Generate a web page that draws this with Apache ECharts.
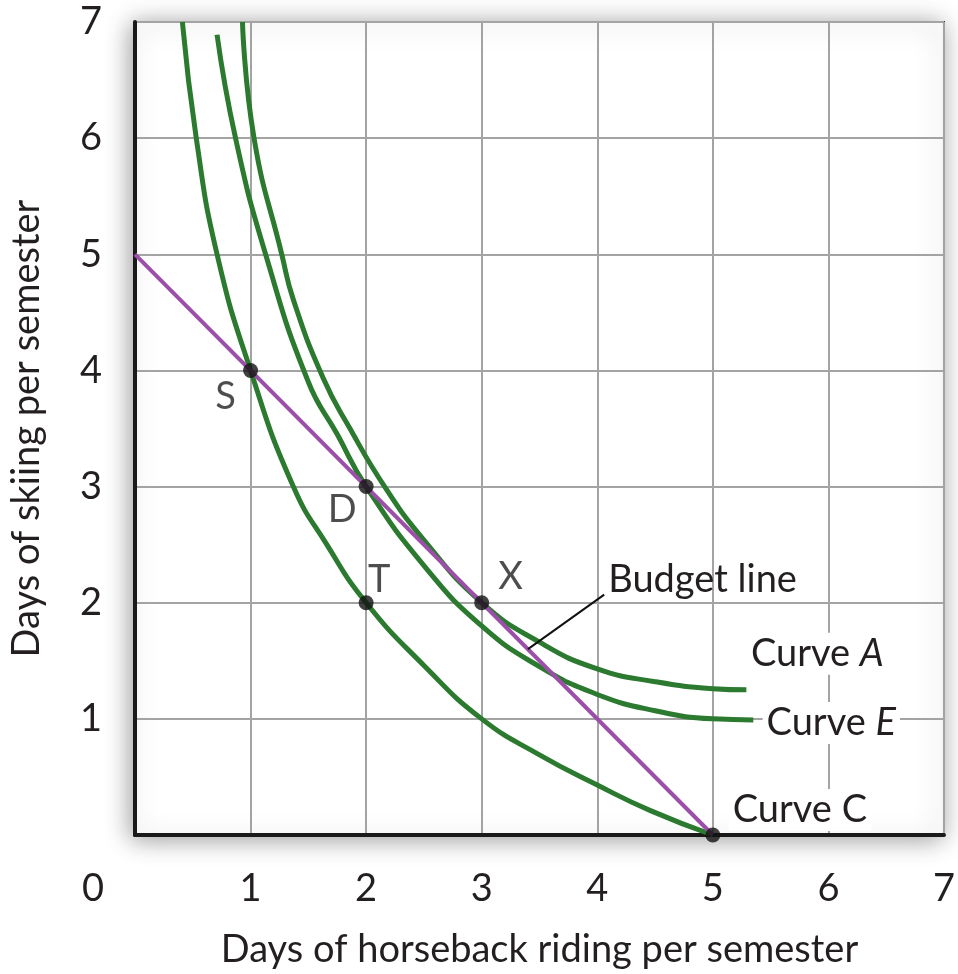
<!DOCTYPE html>
<html>
<head>
<meta charset="utf-8">
<script src="https://cdn.jsdelivr.net/npm/echarts@6/dist/echarts.min.js"></script>
<style>
  html, body { margin: 0; padding: 0; background: #fff; }
  #chart { width: 958px; height: 974px; }
</style>
</head>
<body>
<div id="chart"></div>
<script>
// values (days of horseback riding, days of skiing)
var curveC = [[0.41, 7], [0.53, 6], [0.71, 5], [1, 4], [1.37, 3], [1.66, 2.5], [2, 2], [2.5, 1.46], [3, 1.0], [3.5, 0.69], [4, 0.43], [4.46, 0.21], [5, 0]];
var curveE = [[0.71, 6.89], [0.87, 6], [1.13, 5], [1.5, 3.9], [1.75, 3.45], [2, 3], [2.5, 2.32], [3, 1.8], [3.5, 1.45], [4, 1.21], [4.5, 1.07], [5, 1.0], [5.35, 0.99]];
var curveA = [[0.93, 7], [1.03, 6], [1.27, 5], [1.37, 4.61], [1.63, 3.93], [1.86, 3.5], [2.16, 3], [2.5, 2.54], [3, 2], [3.5, 1.66], [4, 1.43], [4.5, 1.32], [5, 1.26], [5.29, 1.25]];
var budgetLine = [[0, 5], [5, 0]];
var leaderLine = [[3.40, 1.60], [4.06, 2.07]];

var pointNames = ['S', 'D', 'T', 'X', ''];
var pointX = [1, 2, 2, 3, 5];
var pointY = [4, 3, 2, 2, 0];

var axisTicks = [0, 1, 2, 3, 4, 5, 6, 7];

var FONT = 'Lato';
var FS = 38;
var TXT = '#231f20';
var GREEN = '#2b7a2f';
var PURPLE = '#9b4fa8';

var chart = echarts.init(document.getElementById('chart'));

// label offsets for the points, in pixels
var pointOffsets = {S: [-25, 26], D: [-24, 23], T: [13, -23], X: [29, -26]};

var pointData = pointX.map(function (x, i) {
    var name = pointNames[i];
    return {
        value: [x, pointY[i]],
        label: {
            show: name !== '',
            formatter: name,
            position: 'inside',
            offset: pointOffsets[name] || [0, 0]
        }
    };
});

function curveLabel(coord, text, offset) {
    return {
        symbol: 'circle',
        symbolSize: 0,
        silent: true,
        data: [{coord: coord}],
        label: {
            show: true,
            position: 'inside',
            offset: offset,
            formatter: text,
            color: TXT,
            fontFamily: FONT,
            fontSize: FS,
            backgroundColor: '#fff',
            padding: [2, 4],
            rich: {
                i: {fontStyle: 'italic', fontFamily: FONT, fontSize: FS, color: TXT}
            }
        }
    };
}

function curveSeries(name, data, mark) {
    return {
        name: name,
        type: 'line',
        data: data,
        smooth: 0.5,
        showSymbol: false,
        symbol: 'none',
        lineStyle: {color: GREEN, width: 5},
        z: 2,
        markPoint: mark
    };
}

var option = {
    animation: false,
    backgroundColor: '#fff',
    textStyle: {fontFamily: FONT},
    grid: {
        show: true,
        left: 134,
        right: 5,
        top: 22,
        bottom: 134,
        backgroundColor: '#fff',
        borderColor: '#333',
        borderWidth: 2,
        shadowBlur: 24,
        shadowColor: 'rgba(0,0,0,0.4)',
        shadowOffsetX: -3,
        shadowOffsetY: 3
    },
    xAxis: {
        type: 'value',
        min: axisTicks[0],
        max: axisTicks[axisTicks.length - 1],
        interval: 1,
        name: 'Days of horseback riding per semester',
        nameLocation: 'middle',
        nameGap: 96,
        nameTextStyle: {fontFamily: FONT, fontSize: FS, color: TXT},
        axisLine: {show: true, lineStyle: {color: '#1a1a1a', width: 4}},
        axisTick: {show: false},
        splitLine: {show: true, lineStyle: {color: '#a3a3a3', width: 2}},
        axisLabel: {
            margin: 35,
            fontFamily: FONT,
            fontSize: FS,
            color: TXT,
            showMaxLabel: true,
            formatter: function (v) { return v === 0 ? '{z|0}' : String(v); },
            rich: {z: {fontFamily: FONT, fontSize: FS, color: TXT, padding: [0, 84, 0, 0]}}
        }
    },
    yAxis: {
        type: 'value',
        min: axisTicks[0],
        max: axisTicks[axisTicks.length - 1],
        interval: 1,
        name: 'Days of skiing per semester',
        nameLocation: 'middle',
        nameGap: 89,
        nameTextStyle: {fontFamily: FONT, fontSize: FS, color: TXT},
        axisLine: {show: true, lineStyle: {color: '#1a1a1a', width: 4}},
        axisTick: {show: false},
        splitLine: {show: true, lineStyle: {color: '#a3a3a3', width: 2}},
        axisLabel: {
            margin: 33,
            fontFamily: FONT,
            fontSize: FS,
            color: TXT,
            formatter: function (v) { return v === 0 ? '' : String(v); }
        }
    },
    series: [
        curveSeries('Curve C', curveC, curveLabel(curveC[curveC.length - 1], 'Curve C', [87, -25])),
        curveSeries('Curve E', curveE, curveLabel(curveE[curveE.length - 1], 'Curve {i|E}', [78, 3])),
        curveSeries('Curve A', curveA, curveLabel(curveA[curveA.length - 1], 'Curve {i|A}', [71, -36])),
        {
            name: 'Budget line',
            type: 'line',
            data: budgetLine,
            showSymbol: false,
            symbol: 'none',
            lineStyle: {color: PURPLE, width: 4},
            z: 3
        },
        {
            name: 'leader',
            type: 'line',
            data: [
                {value: leaderLine[0]},
                {value: leaderLine[1], label: {show: true, formatter: 'Budget line', position: 'right', distance: 4, offset: [0, -15]}}
            ],
            symbol: 'circle',
            symbolSize: 0,
            showSymbol: true,
            lineStyle: {color: '#111', width: 2},
            label: {fontFamily: FONT, fontSize: FS, color: TXT},
            z: 3
        },
        {
            name: 'points',
            type: 'scatter',
            data: pointData,
            symbolSize: 15,
            itemStyle: {color: '#111'},
            label: {fontFamily: FONT, fontSize: FS, color: TXT},
            z: 5
        }
    ]
};

chart.setOption(option);

window.addEventListener('resize', function () {
    chart.resize();
});
</script>
</body>
</html>
